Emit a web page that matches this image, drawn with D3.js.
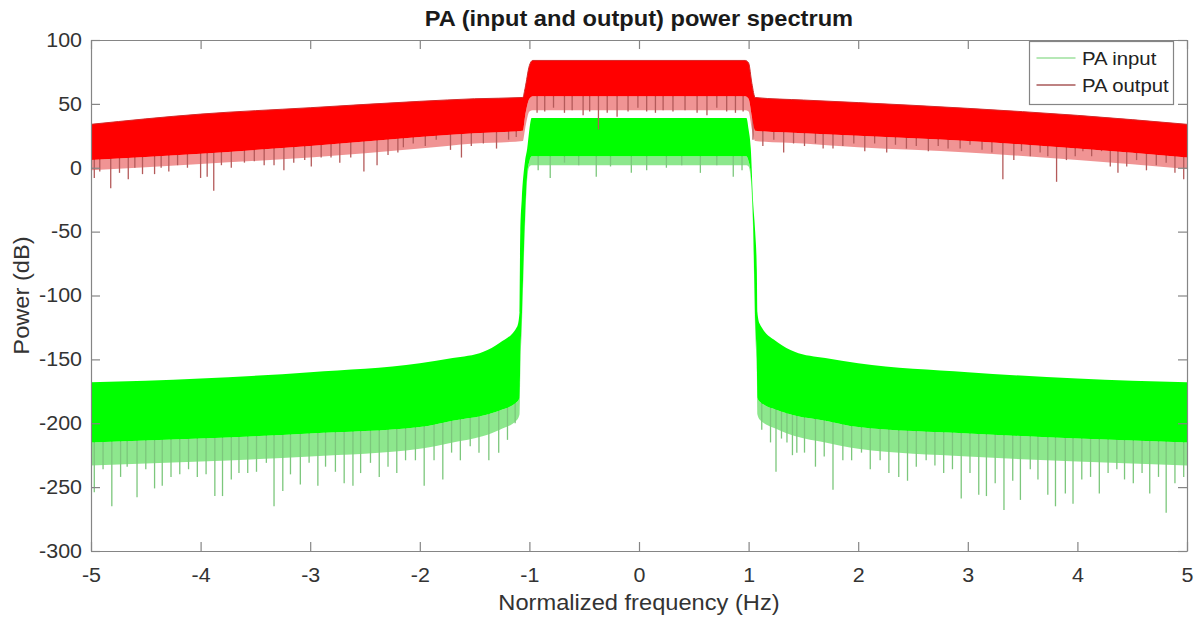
<!DOCTYPE html>
<html>
<head>
<meta charset="utf-8">
<script src="https://cdnjs.cloudflare.com/ajax/libs/d3/7.8.5/d3.min.js"></script>
<style>
  body { margin: 0; background: #fff; }
  .spectrum text { font-family: Arial, "Liberation Sans", Helvetica, sans-serif; }
</style>
</head>
<body>
<div class="spectrum"></div>
<script>

// axis ticks
var xTicks = [-5, -4, -3, -2, -1, 0, 1, 2, 3, 4, 5]
var yTicks = [-300, -250, -200, -150, -100, -50, 0, 50, 100]

// PA output (red) envelope: top of trace, bottom of the solid band, bottom of the dense spike fringe
var outFreq   = [-5, -4, -3, -2, -1.5, -1.06, -1.04, -1.0, -0.97, 0, 0.97, 1.0, 1.03, 1.06, 1.5, 2, 3, 4, 5]
var outTop    = [34, 42, 47, 52, 54, 55, 62, 80, 84, 84, 84, 82, 66, 55, 53, 51, 46.5, 41, 34]
var outBottom = [6, 11, 17, 24, 27, 29, 40, 54, 56, 56, 56, 54, 40, 29, 27, 25, 21, 15, 8]
var outFringe = [-2, 3, 8, 15, 19, 21, 30, 44, 45, 45, 45, 44, 30, 21, 19, 16, 12, 6, -1]

// PA input (green) envelope
var inFreq   = [-5, -4, -3, -2, -1.7, -1.42, -1.27, -1.11, -1.09, -1.087, -1.083, -1.07, -1.04, -1.02, -1.0, -0.98, 0,
                0.98, 1.0, 1.02, 1.04, 1.06, 1.075, 1.08, 1.1, 1.27, 1.42, 1.7, 2, 3, 4, 5]
var inTop    = [-168, -165, -160, -153, -149, -144, -137, -124, -113, -80, -50, -25, 5, 15, 30, 39, 39,
                39, 30, 15, -25, -50, -80, -113, -122, -137, -144, -149, -153, -160, -165, -168]
var inBottom = [-215, -212, -208, -203, -198, -194, -190, -183, -180, -170, -150, -120, -40, -5, 5, 9, 9,
                9, 5, -5, -40, -120, -150, -180, -183, -190, -194, -198, -203, -208, -212, -215]
var inFringe = [-233, -230, -226, -220, -215, -210, -205, -197, -193, -182, -160, -128, -46, -9, 1, 2, 2,
                2, 1, -9, -46, -128, -160, -193, -197, -205, -210, -215, -220, -226, -230, -233]

// deep single-bin dips hanging below each trace
var inDipFreq = [-4.97, -4.89, -4.81, -4.73, -4.67, -4.58, -4.50, -4.42, -4.35, -4.27,
                 -4.19, -4.11, -4.03, -3.95, -3.87, -3.80, -3.72, -3.65, -3.57, -3.49,
                 -3.40, -3.33, -3.25, -3.18, -3.09, -3.01, -2.93, -2.86, -2.77, -2.69,
                 -2.61, -2.54, -2.45, -2.37, -2.29, -2.21, -2.13, -2.04, -1.96, -1.87,
                 -1.79, -1.71, -1.63, -1.54, -1.46, -1.37, -1.28, -1.20, -1.13,
                 -0.92, -0.81, -0.68, -0.55, -0.39, -0.26, -0.07, 0.07, 0.25, 0.39, 0.56, 0.71, 0.86, 0.94,
                 1.12, 1.20, 1.25, 1.30, 1.35, 1.40, 1.44,
                 1.51, 1.61, 1.69, 1.77, 1.86, 1.94, 2.03, 2.11, 2.20, 2.28,
                 2.37, 2.45, 2.53, 2.62, 2.70, 2.78, 2.86, 2.94, 3.02, 3.10,
                 3.17, 3.25, 3.33, 3.41, 3.48, 3.57, 3.64, 3.73, 3.80, 3.89,
                 3.96, 4.04, 4.12, 4.20, 4.28, 4.36, 4.43, 4.51, 4.59, 4.66,
                 4.74, 4.81, 4.89, 4.97]
var inDipLevel = [-254, -236, -265, -242, -234, -258, -236, -251, -249, -242,
                  -240, -236, -242, -240, -257, -257, -244, -239, -239, -238,
                  -231, -265, -253, -240, -248, -231, -249, -234, -238, -247,
                  -249, -239, -231, -242, -234, -239, -229, -229, -249, -229,
                  -244, -223, -229, -218, -223, -229, -223, -213, -200,
                  -2, -8, 4, 2, -7, 1, -4, -2, 0, 2, -4, 2, -7, -2,
                  -205, -215, -238, -212, -215, -225, -223,
                  -223, -234, -226, -252, -229, -229, -223, -236, -229, -239,
                  -242, -245, -234, -229, -233, -239, -236, -259, -239, -256,
                  -257, -247, -268, -245, -260, -236, -244, -256, -265, -255,
                  -263, -244, -242, -255, -239, -236, -244, -247, -239, -255,
                  -242, -270, -247, -242]

var outDipFreq = [-4.97, -4.92, -4.82, -4.74, -4.66, -4.60, -4.53, -4.42, -4.36, -4.29,
                  -4.21, -4.12, -4.00, -3.94, -3.88, -3.81, -3.72, -3.60, -3.51, -3.42,
                  -3.33, -3.24, -3.15, -3.05, -2.99, -2.90, -2.81, -2.73, -2.63, -2.51,
                  -2.39, -2.29, -2.20, -2.15, -2.06, -1.95, -1.85, -1.72, -1.62, -1.53,
                  -1.42, -1.30, -1.19, -1.12,
                  -0.93, -0.86, -0.78, -0.68, -0.61, -0.51, -0.45, -0.37, -0.29, -0.20, -0.10, -0.01,
                  0.07, 0.15, 0.22, 0.31, 0.42, 0.53, 0.62, 0.71, 0.80, 0.88, 0.95,
                  1.04, 1.13, 1.23, 1.32, 1.41,
                  1.51, 1.61, 1.68, 1.77, 1.86, 1.96, 2.06, 2.15, 2.26, 2.34,
                  2.44, 2.53, 2.64, 2.73, 2.82, 2.93, 3.02, 3.13, 3.22, 3.32,
                  3.42, 3.49, 3.57, 3.66, 3.73, 3.81, 3.90, 3.98, 4.05, 4.13,
                  4.22, 4.30, 4.37, 4.45, 4.54, 4.63, 4.72, 4.81, 4.89, 4.97]
var outDipLevel = [-8, -3, -16, -4, -9, 0, -5, -5, 0, -3,
                   2, 0, -8, -7, -18, 2, 0, 4, 5, 2,
                   2, -2, 4, 6, 1, 8, 8, 4, 8, -3,
                   2, 10, 12, 16, 19, 17, 22, 14, 8, 17,
                   19, 15, 22, 24,
                   43, 44, 47, 43, 45, 41, 44, 30, 43, 40, 44, 47,
                   44, 43, 45, 44, 45, 43, 41, 47, 44, 43, 44,
                   22, 17, 22, 12, 19,
                   17, 19, 15, 15, 17, 19, 13, 19, 12, 18,
                   15, 17, 13, 17, 15, 15, 18, 14, 12, -9,
                   6, 13, 9, 12, 9, -11, 6, 9, 13, 9,
                   13, 1, -4, 1, 6, -2, 2, 4, -4, -9]

var seriesNames = ["PA input", "PA output"]

// set the dimensions and margins of the graph
var margin = {top: 40, right: 7, bottom: 68, left: 91},
    width = 1194 - margin.left - margin.right,
    height = 619 - margin.top - margin.bottom

var STRETCH = 1.1   // text in the picture is a bit wider than Arial

var svg = d3.select(".spectrum")
  .append("svg")
    .attr("width", 1194)
    .attr("height", 619)

var g = svg.append("g")
    .attr("transform", "translate(" + margin.left + "," + margin.top + ")")

var x = d3.scaleLinear().domain([-5, 5]).range([0, width])
var y = d3.scaleLinear().domain([-300, 100]).range([height, 0])

g.append("clipPath").attr("id", "plotclip")
  .append("rect").attr("width", width).attr("height", height)

var plot = g.append("g").attr("clip-path", "url(#plotclip)")

function drawSeries(freq, top, bottom, fringe, dipFreq, dipLevel, fill, fringeColor, dipColor, edge) {
  var topAt = d3.scaleLinear().domain(freq).range(top)
  var pts = freq.map(function(f, i) { return {f: f, t: top[i], b: bottom[i], r: fringe[i]} })

  var layer = plot.append("g")

  // dense spike zone under the solid band
  layer.append("path")
    .datum(pts)
    .attr("fill", fringeColor)
    .attr("opacity", 0.55)
    .attr("d", d3.area()
      .curve(d3.curveMonotoneX)
      .x(function(d) { return x(d.f) })
      .y0(function(d) { return y(d.r) })
      .y1(function(d) { return y(d.b) }))

  // single dips, drawn up into the band so the band hides the upper part
  layer.selectAll(".dip")
    .data(dipFreq)
    .enter()
    .append("line")
      .attr("class", "dip")
      .attr("x1", function(d) { return x(d) })
      .attr("x2", function(d) { return x(d) })
      .attr("y1", function(d, i) { return y(dipLevel[i]) })
      .attr("y2", function(d) { return y(topAt(d) - 4) })
      .attr("stroke", dipColor)
      .attr("stroke-width", 1.3)

  layer.append("path")
    .datum(pts)
    .attr("fill", fill)
    .attr("d", d3.area()
      .curve(d3.curveMonotoneX)
      .x(function(d) { return x(d.f) })
      .y0(function(d) { return y(d.b) })
      .y1(function(d) { return y(d.t) }))

  if (edge) {
    layer.append("path")
      .datum(pts)
      .attr("fill", "none")
      .attr("stroke", edge)
      .attr("stroke-width", 1)
      .attr("d", d3.line()
        .curve(d3.curveMonotoneX)
        .x(function(d) { return x(d.f) })
        .y(function(d) { return y(d.t) }))
  }
}

drawSeries(inFreq, inTop, inBottom, inFringe, inDipFreq, inDipLevel, "#00ff00", "#2fd42f", "#7cc77c", null)
drawSeries(outFreq, outTop, outBottom, outFringe, outDipFreq, outDipLevel, "#ff0000", "#e43c3c", "#b45a5a", "#d42a2a")

// axes, matlab style box with inward ticks on all sides
var axisColor = "#858585"
var plainNum = function(d) { return String(d) }

g.append("g")
    .attr("transform", "translate(0," + height + ")")
    .call(d3.axisBottom(x).tickValues(xTicks).tickFormat(plainNum)
      .tickSize(-9).tickSizeOuter(0).tickPadding(17))
g.append("g")
    .call(d3.axisLeft(y).tickValues(yTicks).tickFormat(plainNum)
      .tickSize(-9).tickSizeOuter(0).tickPadding(9))
g.append("g")
    .call(d3.axisTop(x).tickValues(xTicks).tickSize(-9).tickSizeOuter(0).tickFormat(""))
g.append("g")
    .attr("transform", "translate(" + width + ",0)")
    .call(d3.axisRight(y).tickValues(yTicks).tickSize(-9).tickSizeOuter(0).tickFormat(""))

g.selectAll(".domain, .tick line").attr("stroke", axisColor).attr("stroke-width", 1.2)
g.selectAll(".tick text")
  .attr("fill", "#333")
  .style("font-size", "19.5px")

// titles
svg.append("text")
  .attr("class", "title")
  .attr("x", margin.left + width / 2)
  .attr("y", 26)
  .attr("text-anchor", "middle")
  .style("font-size", "21.5px")
  .style("font-weight", "bold")
  .attr("fill", "#1a1a1a")
  .text("PA (input and output) power spectrum")

svg.append("text")
  .attr("x", margin.left + width / 2)
  .attr("y", 610)
  .attr("text-anchor", "middle")
  .style("font-size", "21.5px")
  .attr("fill", "#333")
  .text("Normalized frequency (Hz)")

svg.append("text")
  .attr("transform", "translate(29," + (margin.top + height / 2) + ") rotate(-90)")
  .attr("text-anchor", "middle")
  .style("font-size", "21.5px")
  .attr("fill", "#333")
  .text("Power (dB)")

// legend
var legend = svg.append("g").attr("transform", "translate(1029.5,41.5)")
legend.append("rect")
  .attr("width", 144)
  .attr("height", 63)
  .attr("fill", "#fff")
  .attr("stroke", axisColor)
  .attr("stroke-width", 1.2)

var legendColors = ["#9ee09e", "#a85858"]
seriesNames.forEach(function(name, i) {
  var ly = 16.5 + i * 27
  legend.append("line")
    .attr("x1", 7).attr("x2", 46)
    .attr("y1", ly).attr("y2", ly)
    .attr("stroke", legendColors[i])
    .attr("stroke-width", 1.3)
  legend.append("text")
    .attr("x", 52.5)
    .attr("y", ly + 6.5)
    .style("font-size", "18.5px")
    .attr("fill", "#222")
    .text(name)
})

// widen all text a little to match the picture
svg.selectAll("text").each(function() {
  var len = this.getComputedTextLength()
  if (len > 0) {
    d3.select(this)
      .attr("textLength", len * STRETCH)
      .attr("lengthAdjust", "spacingAndGlyphs")
  }
})

</script>
</body>
</html>
